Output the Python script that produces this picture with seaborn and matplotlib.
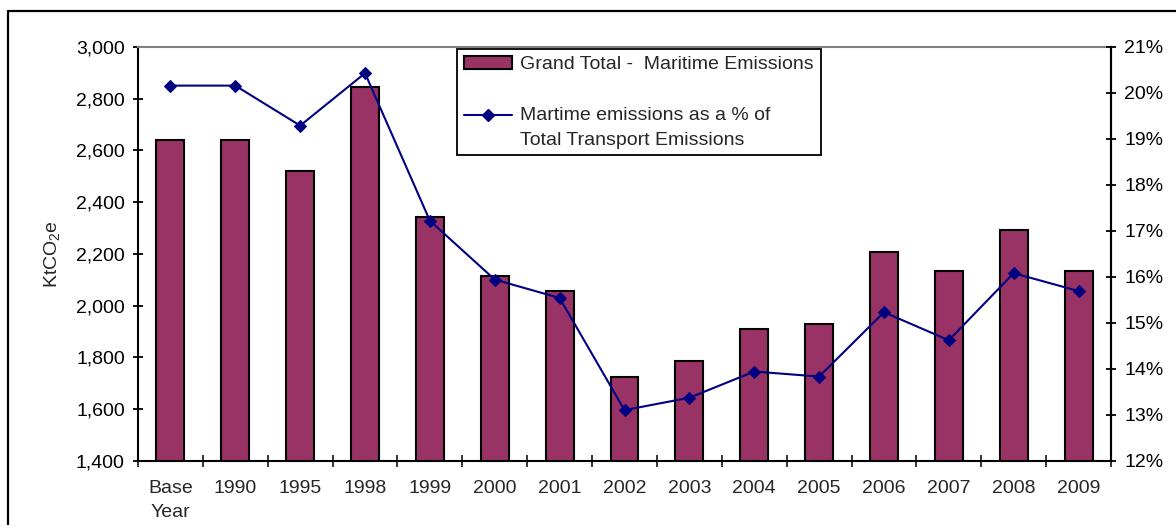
import numpy as np
import pandas as pd
import matplotlib
matplotlib.use("Agg")
import matplotlib.pyplot as plt
from matplotlib.lines import Line2D
from matplotlib.patches import Patch
from matplotlib.legend_handler import HandlerLine2D
from matplotlib.ticker import FuncFormatter, FixedLocator
import seaborn as sns

# Maritime emissions by year
years = ["Base\nYear", "1990", "1995", "1998", "1999", "2000", "2001", "2002",
         "2003", "2004", "2005", "2006", "2007", "2008", "2009"]
maritime_kt = [2640, 2640, 2520, 2845, 2344, 2114, 2058, 1724,
               1786, 1909, 1928, 2206, 2132, 2294, 2132]
maritime_share_pct = [20.16, 20.16, 19.29, 20.43, 17.22, 15.94, 15.54, 13.10,
                      13.37, 13.94, 13.83, 15.23, 14.62, 16.08, 15.69]
left_ticks = [1400, 1600, 1800, 2000, 2200, 2400, 2600, 2800, 3000]
right_ticks = [12, 13, 14, 15, 16, 17, 18, 19, 20, 21]

bar_label = "Grand Total -  Maritime Emissions"
line_label = "Martime emissions as a % of\nTotal Transport Emissions"

sns.set_theme(style="white")
plt.rcParams["font.family"] = ["Liberation Sans", "DejaVu Sans"]
plt.rcParams["mathtext.default"] = "regular"

BAR_COLOR = "#993366"
LINE_COLOR = "#000080"
FS = 14


class TopLineHandler(HandlerLine2D):
    """Line handle aligned with the first row of a two-line label."""
    def __init__(self, shift, **kw):
        super().__init__(**kw)
        self.shift = shift

    def create_artists(self, legend, orig_handle, xdescent, ydescent,
                       width, height, fontsize, trans):
        return super().create_artists(legend, orig_handle, xdescent,
                                      ydescent - 2 * self.shift, width, height,
                                      fontsize, trans)


df = pd.DataFrame({"year": years, "kt": maritime_kt})
n = len(years)

fig = plt.figure(figsize=(11.76, 5.25), dpi=100)
ax = fig.add_axes([138 / 1176, 64.3 / 525, (1111 - 138) / 1176, (460.7 - 47) / 525])

sns.barplot(data=df, x="year", y="kt", ax=ax, color=BAR_COLOR, saturation=1,
            width=0.43, edgecolor="black", linewidth=1.5, zorder=2)

ax.set_xlim(-0.5, n - 0.5)
ax.set_ylim(1400, 3000)
ax.yaxis.set_major_locator(FixedLocator(left_ticks))
ax.yaxis.set_major_formatter(FuncFormatter(lambda v, p: f"{int(v):,}"))
ax.tick_params(axis="y", direction="inout", length=7, width=1.3, pad=6,
               labelsize=FS, colors="black", left=True)

# tick marks between categories, labels centred under each bar
ax.set_xticks(np.arange(-0.5, n, 1.0))
ax.set_xticklabels([])
ax.set_xticks(np.arange(n), minor=True)
ax.set_xticklabels(years, minor=True, fontsize=FS, linespacing=1.5)
ax.tick_params(axis="x", which="major", direction="inout", length=8, width=1.3, bottom=True)
ax.tick_params(axis="x", which="minor", length=0, pad=14, labelsize=FS)
ax.set_xlabel("")
ax.set_ylabel("KtCO$_2$e", fontsize=FS, labelpad=10)

for side in ("left", "bottom", "right"):
    ax.spines[side].set_color("black")
    ax.spines[side].set_linewidth(1.5)
ax.spines["top"].set_color("#808080")
ax.spines["top"].set_linewidth(1.5)
ax.grid(False)

ax2 = ax.twinx()
sns.lineplot(x=np.arange(n), y=maritime_share_pct, ax=ax2, color=LINE_COLOR,
             linewidth=1.5, marker="D", markersize=6.5, markeredgecolor=LINE_COLOR,
             markerfacecolor=LINE_COLOR, legend=False)
ax2.set_ylim(12, 21)
ax2.yaxis.set_major_locator(FixedLocator(right_ticks))
ax2.yaxis.set_major_formatter(FuncFormatter(lambda v, p: f"{int(round(v))}%"))
ax2.tick_params(axis="y", direction="inout", length=7, width=1.3, pad=6,
                labelsize=FS, colors="black", right=True)
ax2.set_xlim(-0.5, n - 0.5)
ax2.grid(False)
for side in ("left", "bottom", "top"):
    ax2.spines[side].set_visible(False)
ax2.spines["right"].set_color("black")
ax2.spines["right"].set_linewidth(1.5)

bar_handle = Patch(facecolor=BAR_COLOR, edgecolor="black", linewidth=1.5)
line_handle = Line2D([], [], color=LINE_COLOR, linewidth=1.5, marker="D", markersize=6.5)
leg = ax2.legend([bar_handle, line_handle], [bar_label, line_label], loc="upper left",
                 bbox_to_anchor=(457 / 1176, 1 - 49 / 525),
                 bbox_transform=fig.transFigure, borderaxespad=0,
                 fontsize=FS, frameon=True, fancybox=False, framealpha=1,
                 edgecolor="black", handlelength=2.5, handletextpad=0.4,
                 labelspacing=1.75, borderpad=0.35,
                 handler_map={line_handle: TopLineHandler(shift=9.5)})
leg.get_frame().set_linewidth(1.3)
for t in leg.get_texts():
    t.set_linespacing(1.55)

# outer chart frame
fig.add_artist(Line2D([8 / 1176, 8 / 1176], [0, 1 - 11 / 525], transform=fig.transFigure,
                      color="black", linewidth=1.6))
fig.add_artist(Line2D([8 / 1176, 1], [1 - 11 / 525, 1 - 11 / 525], transform=fig.transFigure,
                      color="black", linewidth=1.6))

fig.savefig("out.png", dpi=100)
